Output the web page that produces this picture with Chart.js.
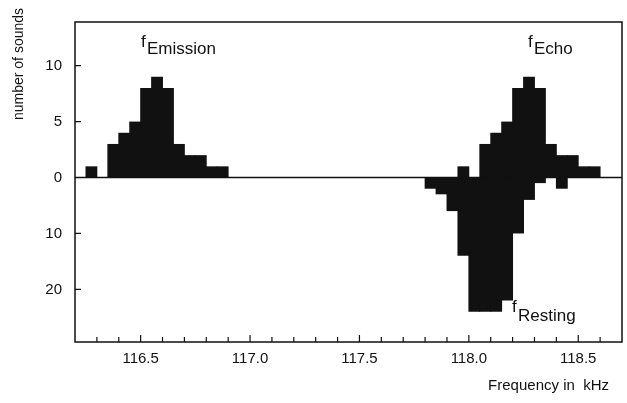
<!DOCTYPE html>
<html>
<head>
<meta charset="utf-8">
<script src="https://cdn.jsdelivr.net/npm/chart.js@4"></script>
<style>
  html, body { margin: 0; padding: 0; background: #fff; }
  #wrap { width: 627px; height: 403px; }
</style>
</head>
<body>
<div id="wrap"><canvas id="myChart"></canvas></div>
<script>
// bin centres in kHz (bins are 0.05 kHz wide)
const emissionFreq = [116.275, 116.325, 116.375, 116.425, 116.475, 116.525, 116.575, 116.625, 116.675, 116.725, 116.775, 116.825, 116.875];
const emissionCount = [1, 0, 3, 4, 5, 8, 9, 8, 3, 2, 2, 1, 1];

const echoFreq = [117.975, 118.025, 118.075, 118.125, 118.175, 118.225, 118.275, 118.325, 118.375, 118.425, 118.475, 118.525, 118.575];
const echoCount = [1, 0, 3, 4, 5, 8, 9, 8, 3, 2, 2, 1, 1];

const restingFreq = [117.825, 117.875, 117.925, 117.975, 118.025, 118.075, 118.125, 118.175, 118.225, 118.275, 118.325, 118.375, 118.425];
const restingCount = [2, 3, 6, 14, 24, 24, 24, 22, 10, 4, 1, 0, 2];

// lower half of the plot is drawn at half the scale of the upper half
const restingFactor = 0.5;

const xTicks = [116.3, 116.4, 116.5, 116.6, 116.7, 116.8, 116.9, 117.0, 117.1, 117.2, 117.3, 117.4,
                117.5, 117.6, 117.7, 117.8, 117.9, 118.0, 118.1, 118.2, 118.3, 118.4, 118.5, 118.6];
const yTicks = [10, 5, 0, -5, -10];

const ink = '#111';

function toPoints(freq, counts, factor) {
  return freq.map((f, i) => ({ x: f, y: counts[i] * factor }));
}

// slightly over 1 so neighbouring bins close up without seams
const barStyle = {
  backgroundColor: ink,
  borderWidth: 0,
  barPercentage: 1.08,
  categoryPercentage: 1,
  grouped: false
};

const extras = {
  id: 'extras',
  afterDatasetsDraw(chart) {
    const { ctx, chartArea: a, scales: { x, y } } = chart;
    ctx.save();
    ctx.strokeStyle = ink;
    ctx.lineWidth = 1.5;
    // frame
    ctx.strokeRect(a.left, a.top, a.right - a.left, a.bottom - a.top);
    // zero line
    const y0 = y.getPixelForValue(0);
    ctx.beginPath();
    ctx.moveTo(a.left, y0);
    ctx.lineTo(a.right, y0);
    ctx.stroke();
    // inward ticks
    ctx.lineWidth = 1.2;
    ctx.beginPath();
    xTicks.forEach(v => {
      const px = x.getPixelForValue(v);
      const len = Math.round(v * 10) % 5 === 0 ? 7 : 5;
      ctx.moveTo(px, a.bottom);
      ctx.lineTo(px, a.bottom - len);
    });
    yTicks.forEach(v => {
      const py = y.getPixelForValue(v);
      ctx.moveTo(a.left, py);
      ctx.lineTo(a.left + 6, py);
    });
    ctx.stroke();

    // texts
    ctx.fillStyle = ink;
    ctx.textBaseline = 'alphabetic';
    ctx.textAlign = 'left';
    ctx.font = '17px "Liberation Sans", Arial, sans-serif';
    const labels = [
      { sub: 'Emission', fx: 141, fy: 47, sx: 147, sy: 54 },
      { sub: 'Echo', fx: 528, fy: 47, sx: 534, sy: 54 },
      { sub: 'Resting', fx: 512, fy: 312, sx: 518, sy: 321 }
    ];
    labels.forEach(l => {
      ctx.fillText('f', l.fx, l.fy);
      ctx.fillText(l.sub, l.sx, l.sy);
    });

    ctx.font = '15px "Liberation Sans", Arial, sans-serif';
    ctx.textAlign = 'right';
    ctx.fillText('Frequency in  kHz', 609, 390);

    ctx.font = '14px "Liberation Sans", Arial, sans-serif';
    ctx.translate(19, 64);
    ctx.rotate(-Math.PI / 2);
    ctx.textAlign = 'center';
    ctx.textBaseline = 'middle';
    ctx.fillText('number of sounds', 0, 0);
    ctx.restore();
  }
};

new Chart(document.getElementById('myChart'), {
  type: 'bar',
  data: {
    datasets: [
      { label: 'Emission', data: toPoints(emissionFreq, emissionCount, 1), ...barStyle },
      { label: 'Echo', data: toPoints(echoFreq, echoCount, 1), ...barStyle },
      { label: 'Resting', data: toPoints(restingFreq, restingCount, -restingFactor), ...barStyle }
    ]
  },
  options: {
    responsive: true,
    maintainAspectRatio: false,
    animation: false,
    layout: { padding: { top: 19, right: 5, left: 0, bottom: 0 } },
    plugins: {
      legend: { display: false },
      tooltip: { enabled: false }
    },
    scales: {
      x: {
        type: 'linear',
        offset: false,
        min: 116.2,
        max: 118.7,
        grid: { display: false, drawTicks: false },
        border: { display: false },
        afterBuildTicks: s => { s.ticks = xTicks.map(v => ({ value: v })); },
        afterFit: s => { s.height = 61; },
        ticks: {
          autoSkip: false,
          maxRotation: 0,
          padding: 8,
          color: ink,
          font: { family: '"Liberation Sans", Arial, sans-serif', size: 15 },
          callback: v => (Math.round(v * 10) % 5 === 0 ? v.toFixed(1) : '')
        }
      },
      y: {
        min: -14.7,
        max: 13.9,
        grid: { display: false, drawTicks: false },
        border: { display: false },
        afterBuildTicks: s => { s.ticks = yTicks.map(v => ({ value: v })); },
        afterFit: s => { s.width = 75; },
        ticks: {
          padding: 13,
          color: ink,
          font: { family: '"Liberation Sans", Arial, sans-serif', size: 15 },
          callback: v => String(v < 0 ? -v / restingFactor : v)
        }
      }
    }
  },
  plugins: [extras]
});
</script>
</body>
</html>
